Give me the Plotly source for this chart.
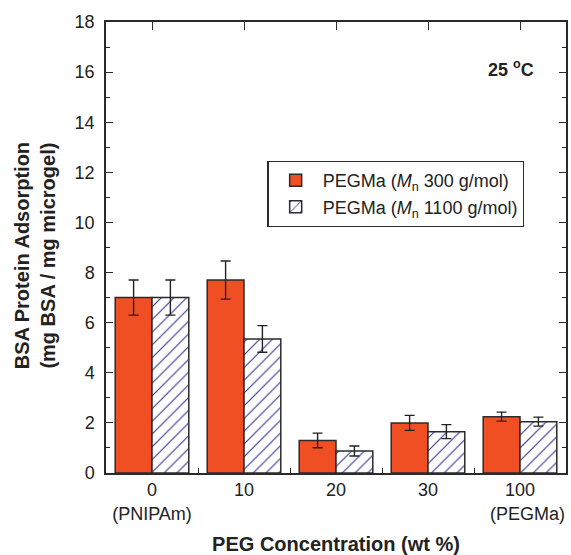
import plotly.graph_objects as go

categories = ["0", "10", "20", "30", "100"]
sub_labels = ["(PNIPAm)", "", "", "", "&nbsp;&nbsp;&nbsp;(PEGMa)"]
pegma300 = [7.0, 7.7, 1.3, 2.0, 2.25]
pegma300_err = [0.7, 0.76, 0.29, 0.3, 0.18]
pegma1100 = [7.0, 5.35, 0.88, 1.65, 2.05]
pegma1100_err = [0.7, 0.53, 0.2, 0.28, 0.18]

xpos = list(range(len(categories)))
ticktext = [c + ("<br>" + s if s else "") for c, s in zip(categories, sub_labels)]

FONT = "Liberation Sans, Arial, sans-serif"
DARK = "#2b2b2b"
ORANGE = "#F04E23"
NAVY = "#2E3192"

fig = go.Figure()
fig.add_trace(go.Bar(
    x=xpos, y=pegma300, name="PEGMa (<i>M</i><sub>n</sub> 300 g/mol)",
    marker=dict(color=ORANGE, line=dict(color=DARK, width=1.5)),
    error_y=dict(type="data", array=pegma300_err, color="#222", thickness=1.4, width=5),
))
fig.add_trace(go.Bar(
    x=xpos, y=pegma1100, name="PEGMa (<i>M</i><sub>n</sub> 1100 g/mol)",
    marker=dict(color="white", line=dict(color=DARK, width=1.5),
                pattern=dict(shape="/", fgcolor=NAVY, bgcolor="white", size=9,
                             solidity=0.12, fgopacity=1)),
    error_y=dict(type="data", array=pegma1100_err, color="#222", thickness=1.4, width=5),
))
# helper (invisible) trace so the top axis is drawn
fig.add_trace(go.Scatter(x=[0], y=[0], xaxis="x2", mode="markers",
                         marker=dict(opacity=0), showlegend=False, hoverinfo="skip"))

fig.update_layout(
    width=571, height=555,
    margin=dict(l=106, r=3, t=22, b=82),
    paper_bgcolor="white", plot_bgcolor="white",
    barmode="group", bargap=0.2, bargroupgap=0,
    font=dict(family=FONT, size=18, color="#222"),
    showlegend=True,
    legend=dict(x=0.351, y=0.692, xanchor="left", yanchor="top",
                bgcolor="white", bordercolor=DARK, borderwidth=1.2,
                font=dict(size=18, family=FONT, color="#222"),
                tracegroupgap=2, itemwidth=44),
    xaxis=dict(range=[-0.5, 4.5], tickmode="array", tickvals=xpos, ticktext=ticktext,
               ticks="", showline=True, linecolor=DARK, linewidth=1.5, mirror=True,
               showgrid=False, zeroline=False, tickfont=dict(size=18),
               minor=dict(tickmode="array", tickvals=[0.5, 1.5, 2.5, 3.5],
                          ticks="inside", ticklen=5, tickcolor=DARK, tickwidth=1.3),
               title=dict(text="<b>PEG Concentration (wt %)</b>", font=dict(size=20), standoff=14)),
    xaxis2=dict(range=[-0.5, 4.5], overlaying="x", side="top", anchor="y",
                tickmode="array", tickvals=xpos, ticks="inside", ticklen=8,
                tickcolor=DARK, tickwidth=1.3, showticklabels=False,
                showline=False, showgrid=False, zeroline=False),
    yaxis=dict(range=[0, 18], dtick=2, ticks="inside", ticklen=7, tickwidth=1.3,
               tickcolor=DARK, showline=True, linecolor=DARK, linewidth=1.5,
               mirror="ticks", showgrid=False, zeroline=False,
               tickfont=dict(size=18), ticklabelstandoff=6,
               minor=dict(dtick=1, ticks="inside", ticklen=4, tickcolor=DARK, tickwidth=1.3)),
    annotations=[
        dict(text="<b>BSA Protein Adsorption</b><br><b>(mg BSA / mg microgel)</b>",
             xref="paper", yref="paper", x=-0.155, y=0.482, xanchor="center", yanchor="middle",
             textangle=-90, showarrow=False, font=dict(size=20, family=FONT, color="#222")),
        dict(text="<b>25 <sup>o</sup>C</b>", xref="paper", yref="paper",
             x=0.935, y=0.898, xanchor="right", yanchor="middle",
             showarrow=False, font=dict(size=18, family=FONT, color="#222")),
    ],
)

fig.write_html("out.html")
